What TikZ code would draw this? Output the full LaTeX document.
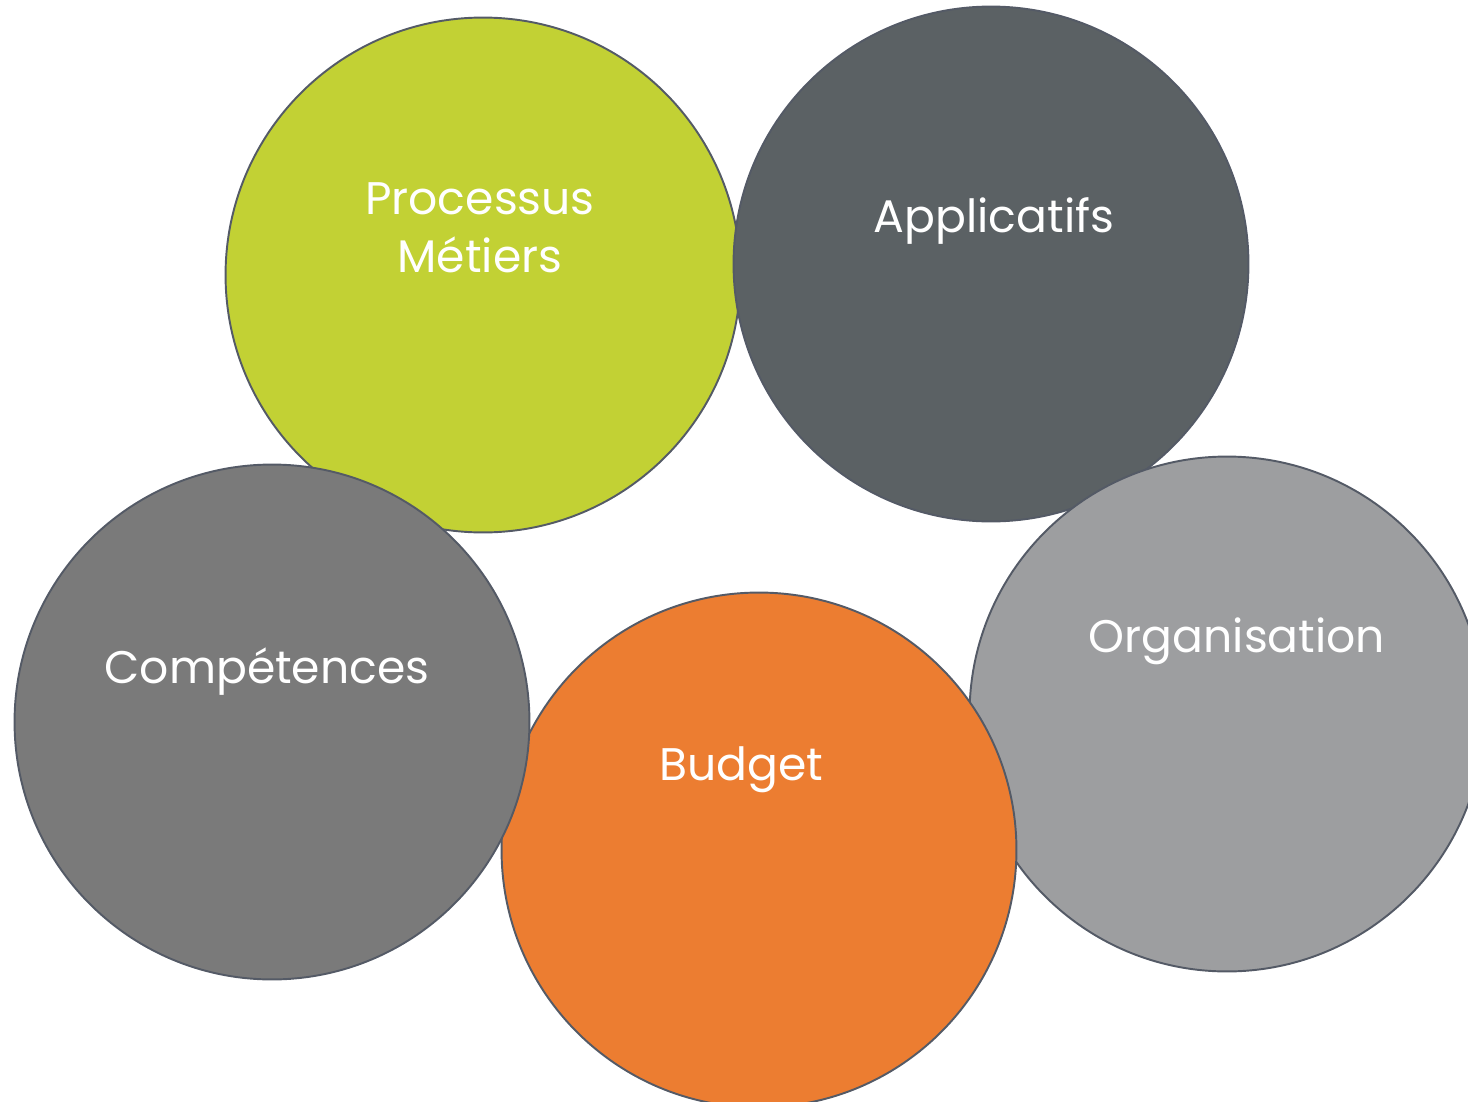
\documentclass[tikz,border=0pt]{standalone}
\usepackage{fontspec}
\setmainfont{Poppins}
\usepackage{tikz}
\usetikzlibrary{positioning}

\definecolor{procgreen}{HTML}{C2D134}
\definecolor{appgray}{HTML}{5B6164}
\definecolor{compgray}{HTML}{7A7A7A}
\definecolor{budorange}{HTML}{EC7D31}
\definecolor{orggray}{HTML}{9D9EA0}
\definecolor{rimcolor}{HTML}{545A66}

\begin{document}
\begin{tikzpicture}[
            x=0.02cm, y=-0.02cm,
            bubble/.style={circle, draw=rimcolor, line width=1.1pt, inner sep=0pt, minimum size=10.3cm},
            caption/.style={text=white, font=\fontsize{26}{32.5}\selectfont, align=center, inner sep=0pt}
        ]
        \useasboundingbox (0,0) rectangle (1468,1102);

        % circles, back to front
        \node[bubble, fill=procgreen] (processus) at (483,275) {};
        \node[bubble, fill=appgray] (applicatifs) at (991,264) {};
        \node[bubble, fill=orggray] (organisation) at (1227,714) {};
        \node[bubble, fill=budorange] (budget) at (759,850) {};
        \node[bubble, fill=compgray] (competences) at (272,722) {};

        % texts
        \node[caption, anchor=base] (proctext) at (480,272) {Processus\\Métiers};
        \node[caption, anchor=base] (apptext) at (994,232) {Applicatifs};
        \node[caption, anchor=base] (orgtext) at (1237,652) {Organisation};
        \node[caption, anchor=base] (comptext) at (267,683) {Compétences};
        \node[caption, anchor=base] (budtext) at (741,780) {Budget};
    \end{tikzpicture}
\end{document}
